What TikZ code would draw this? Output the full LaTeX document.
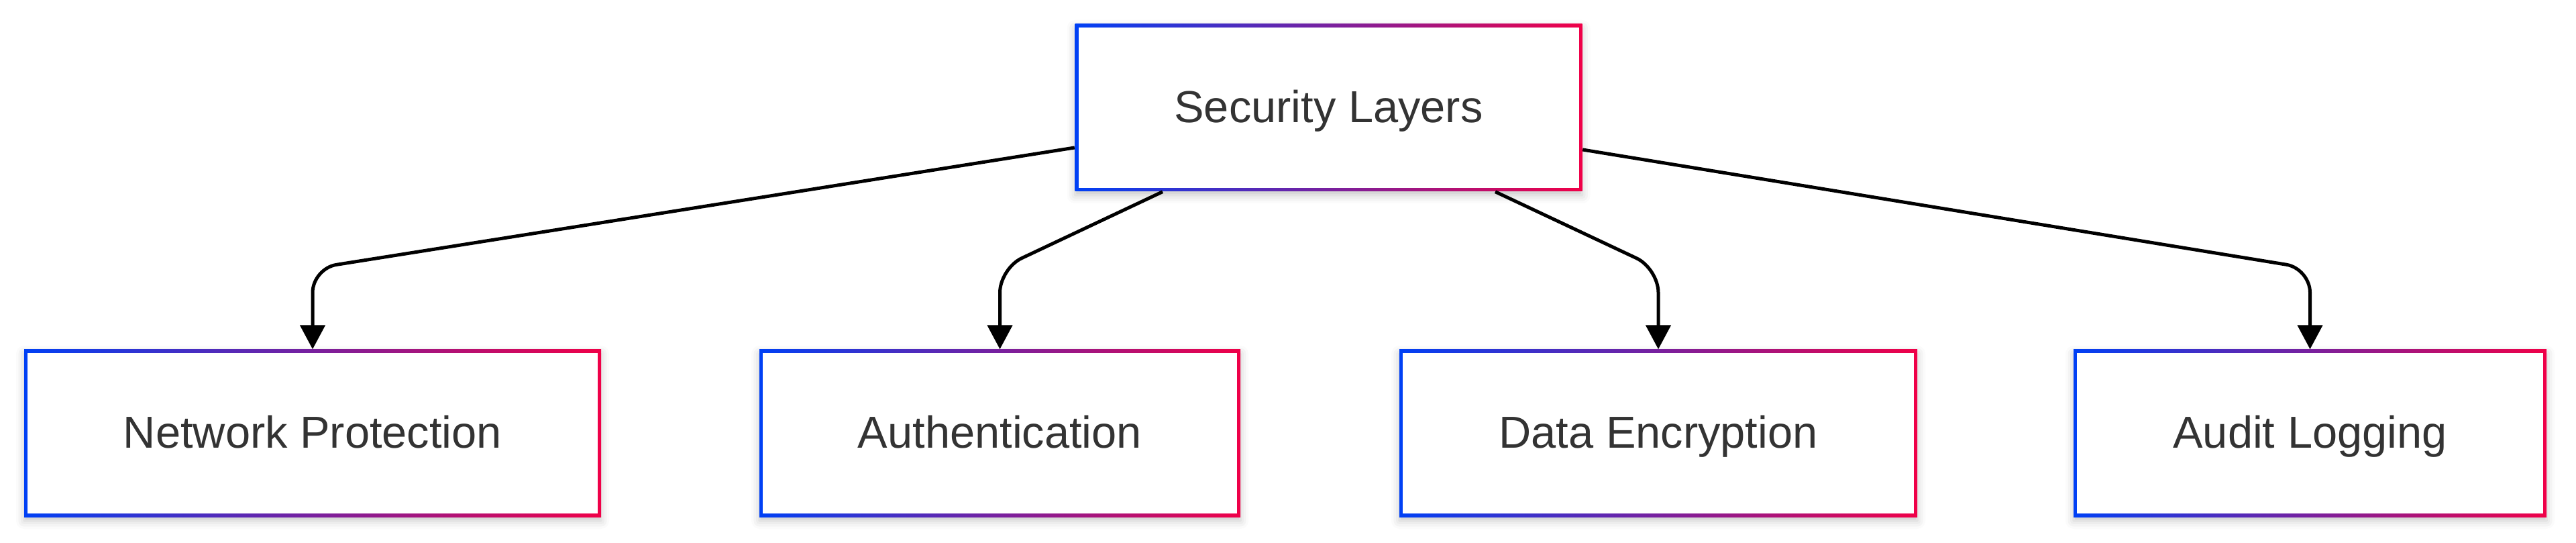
\documentclass[tikz,border=0pt]{standalone}
\usepackage{fontspec}
\setmainfont{Liberation Sans}
\usepackage{tikz}
\usetikzlibrary{positioning,arrows.meta,shadows.blur}
\definecolor{layerblue}{RGB}{0,64,245}
\definecolor{layerred}{RGB}{240,0,72}
\definecolor{labelgray}{RGB}{51,51,51}
\tikzset{
  layer/.style={rectangle, minimum height=2.49cm, left color=layerblue, right color=layerred,
    text=labelgray, font=\fontsize{19}{23}\selectfont, text height=16pt, text depth=3.2pt,
    blur shadow={shadow xshift=0cm, shadow yshift=-0.06cm, shadow blur radius=0.12cm, shadow opacity=22},
    path picture={\fill[white] ([shift={(0.05cm,0.05cm)}]path picture bounding box.south west)
      rectangle ([shift={(-0.05cm,-0.05cm)}]path picture bounding box.north east);}},
  flow/.style={line width=0.05cm, -{Triangle[length=0.36cm,width=0.37cm]}, rounded corners=0.36cm}
}

\begin{document}
\begin{tikzpicture}
    \useasboundingbox (0,0) rectangle (38.4,-8.09);

    % Root node
    \node[layer, minimum width=7.56cm] (sec) at (19.805,-1.605) {Security Layers};

    % Layer nodes
    \node[layer, minimum width=8.60cm] (net) at (4.66,-6.455) {Network Protection};
    \node[layer, minimum width=7.17cm] (auth) at (14.905,-6.455) {Authentication};
    \node[layer, minimum width=7.72cm] (enc) at (24.72,-6.455) {Data Encryption};
    \node[layer, minimum width=7.05cm] (audit) at (34.435,-6.455) {Audit Logging};

    % Connections
    \coordinate (bend) at (0,-4.0);
    \draw[flow] ([yshift=-0.595cm]sec.west) -- (net.north |- bend) -- (net.north);
    \draw[flow] ([xshift=-2.475cm]sec.south) -- (auth.north |- bend) -- (auth.north);
    \draw[flow] ([xshift=2.485cm]sec.south) -- (enc.north |- bend) -- (enc.north);
    \draw[flow] ([yshift=-0.625cm]sec.east) -- (audit.north |- bend) -- (audit.north);
\end{tikzpicture}
\end{document}
